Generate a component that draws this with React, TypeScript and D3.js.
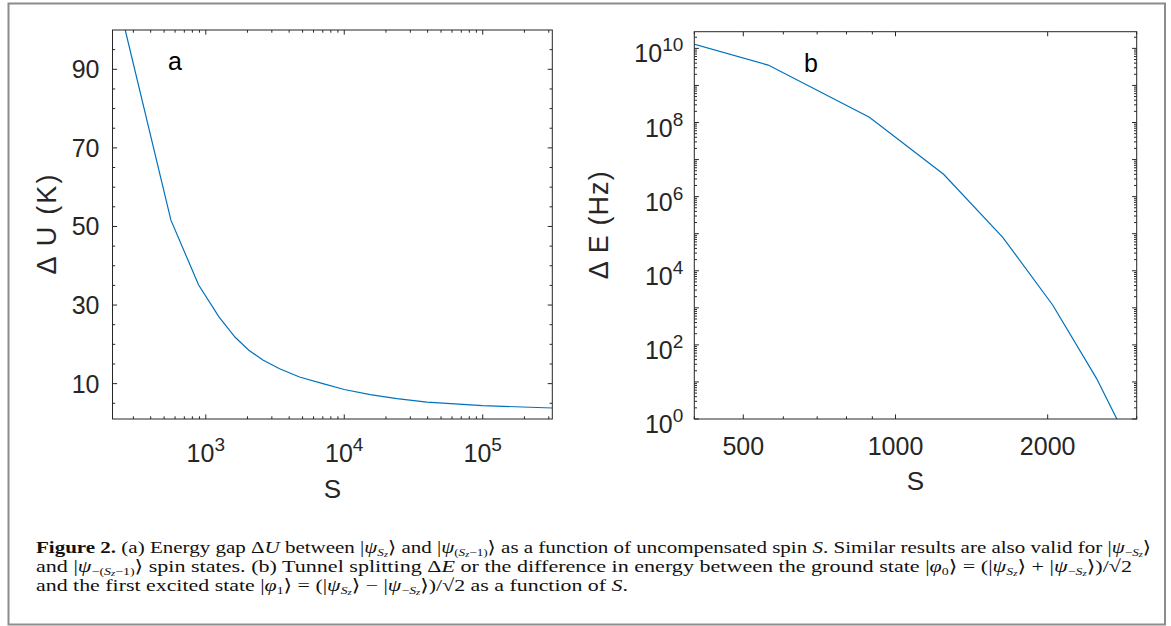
import React from 'react';
import * as d3 from 'd3';

// ---- data ----
const S_A = [262, 560, 888, 1245, 1630, 2046, 2583, 3412, 4755, 7013, 10000, 15400, 24000, 39500, 100000, 318000];
const DU_A = [100, 51.6, 35.1, 27.0, 21.8, 18.5, 16.0, 13.8, 11.7, 10.0, 8.5, 7.2, 6.2, 5.3, 4.4, 3.8];

const S_B = [262, 560, 888, 1245, 1630, 2046, 2498, 2990];
const DE_B = [6.7e10, 3.55e9, 1.38e8, 4.0e6, 8.0e4, 1.19e3, 12.5, 0.093];

const A_X_EXP = [3, 4, 5];
const A_Y_LABELS = [10, 30, 50, 70, 90];
const A_Y_MINOR = [5, 15, 20, 25, 35, 40, 45, 55, 60, 65, 75, 80, 85, 95];
const B_X_LABELS = [500, 1000, 2000];
const B_Y_EXP = [0, 2, 4, 6, 8, 10];

const FONT = '"Liberation Sans", Arial, Helvetica, sans-serif';
const SERIF = '"Liberation Serif", "DejaVu Serif", "Times New Roman", serif';
const INK = '#262626';
const LINE = '#0072BD';

const A = { l: 112.5, r: 552.3, t: 30, b: 419 };
const B = { l: 694.3, r: 1136.7, t: 31.7, b: 419 };

const MAJ = 4.6;
const MIN = 2.7;

type Seg = { t: string; s?: 'b' | 'i' | 'n'; lv?: number };

const L1: Seg[] = [
  { t: 'Figure 2.', s: 'b' },
  { t: ' (a) Energy gap Δ' },
  { t: 'U', s: 'i' },
  { t: ' between |' },
  { t: 'ψ', s: 'i' }, { t: 'S', s: 'i', lv: 1 }, { t: 'z', s: 'i', lv: 2 },
  { t: '⟩ and |' },
  { t: 'ψ', s: 'i' }, { t: '(', lv: 1 }, { t: 'S', s: 'i', lv: 1 }, { t: 'z', s: 'i', lv: 2 }, { t: '−1)', lv: 1 },
  { t: '⟩ as a function of uncompensated spin ' },
  { t: 'S', s: 'i' },
  { t: '. Similar results are also valid for |' },
  { t: 'ψ', s: 'i' }, { t: '−', lv: 1 }, { t: 'S', s: 'i', lv: 1 }, { t: 'z', s: 'i', lv: 2 },
  { t: '⟩' },
];
const L2: Seg[] = [
  { t: 'and |' },
  { t: 'ψ', s: 'i' }, { t: '−(', lv: 1 }, { t: 'S', s: 'i', lv: 1 }, { t: 'z', s: 'i', lv: 2 }, { t: '−1)', lv: 1 },
  { t: '⟩ spin states. (b) Tunnel splitting Δ' },
  { t: 'E', s: 'i' },
  { t: ' or the difference in energy between the ground state |' },
  { t: 'φ', s: 'i' }, { t: '0', lv: 1 },
  { t: '⟩ = (|' },
  { t: 'ψ', s: 'i' }, { t: 'S', s: 'i', lv: 1 }, { t: 'z', s: 'i', lv: 2 },
  { t: '⟩ + |' },
  { t: 'ψ', s: 'i' }, { t: '−', lv: 1 }, { t: 'S', s: 'i', lv: 1 }, { t: 'z', s: 'i', lv: 2 },
  { t: '⟩)/√2' },
];
const L3: Seg[] = [
  { t: 'and the first excited state |' },
  { t: 'φ', s: 'i' }, { t: '1', lv: 1 },
  { t: '⟩ = (|' },
  { t: 'ψ', s: 'i' }, { t: 'S', s: 'i', lv: 1 }, { t: 'z', s: 'i', lv: 2 },
  { t: '⟩ − |' },
  { t: 'ψ', s: 'i' }, { t: '−', lv: 1 }, { t: 'S', s: 'i', lv: 1 }, { t: 'z', s: 'i', lv: 2 },
  { t: '⟩)/√2 as a function of ' },
  { t: 'S', s: 'i' },
  { t: '.' },
];

const LV_OFF = [0, 2.5, 4];
const LV_SIZE = [17.5, 11, 8.5];

function Caption({ segs, x, y, len }: { segs: Seg[]; x: number; y: number; len: number }) {
  let prev = 0;
  return (
    <text x={x} y={y} fontFamily={SERIF} fill="#111" textLength={len} lengthAdjust="spacingAndGlyphs" style={{ whiteSpace: 'pre' }}>
      {segs.map((s, i) => {
        const lv = s.lv || 0;
        const dy = LV_OFF[lv] - LV_OFF[prev];
        prev = lv;
        return (
          <tspan key={i} dy={dy} fontSize={LV_SIZE[lv]} fontWeight={s.s === 'b' ? 'bold' : 'normal'} fontStyle={s.s === 'i' ? 'italic' : 'normal'}>
            {s.t}
          </tspan>
        );
      })}
    </text>
  );
}

export default function App() {
  const xA = d3.scaleLog().domain([212, 318000]).range([A.l, A.r]);
  const yA = d3.scaleLinear().domain([1, 100]).range([A.b, A.t]);
  const xB = d3.scaleLog().domain([400, 3000]).range([B.l, B.r]);
  const yB = d3.scaleLog().domain([1, Math.pow(10, 10.45)]).range([B.b, B.t]);

  const lineA = d3.line<number>().x((d, i) => xA(S_A[i])).y((d) => yA(d));
  const lineB = d3.line<number>().x((d, i) => xB(S_B[i])).y((d) => yB(d));

  const aXticks = xA.ticks();
  const aXmajor = aXticks.filter((v) => Math.abs(Math.log10(v) - Math.round(Math.log10(v))) < 1e-9);
  const aXminor = aXticks.filter((v) => !aXmajor.includes(v));
  const bXticks = xB.ticks();
  const bXminor = bXticks.filter((v) => !B_X_LABELS.includes(v));
  const bYmajor: number[] = [];
  const bYminor: number[] = [];
  const top = yB.domain()[1];
  for (let e = 0; e <= 10; e++) {
    for (let k = 1; k <= 9; k++) {
      const v = k * Math.pow(10, e);
      if (v > top) continue;
      (k === 1 ? bYmajor : bYminor).push(v);
    }
  }

  const vt = (x: number, y0: number, y1: number, len: number, key: string) => (
    <g key={key}>
      <line x1={x} x2={x} y1={y1} y2={y1 - len} stroke={INK} strokeWidth={1} />
      <line x1={x} x2={x} y1={y0} y2={y0 + len} stroke={INK} strokeWidth={1} />
    </g>
  );
  const ht = (y: number, x0: number, x1: number, len: number, key: string) => (
    <g key={key}>
      <line x1={x0} x2={x0 + len} y1={y} y2={y} stroke={INK} strokeWidth={1} />
      <line x1={x1} x2={x1 - len} y1={y} y2={y} stroke={INK} strokeWidth={1} />
    </g>
  );

  return (
    <svg width={1171} height={626} style={{ position: 'absolute', left: 0, top: 0, background: '#fff' }}>
      <rect x={0} y={0} width={1171} height={626} fill="#fff" />
      <rect x={8.5} y={3.5} width={1156.5} height={621} fill="none" stroke="#8c8c8c" strokeWidth={2} />
      <defs>
        <clipPath id="clipA"><rect x={A.l} y={A.t} width={A.r - A.l} height={A.b - A.t} /></clipPath>
        <clipPath id="clipB"><rect x={B.l} y={B.t} width={B.r - B.l} height={B.b - B.t} /></clipPath>
      </defs>

      {/* ---------- Panel a ---------- */}
      <g>
        <path d={lineA(DU_A) || ''} fill="none" stroke={LINE} strokeWidth={1.2} clipPath="url(#clipA)" />
        {aXmajor.map((v) => vt(xA(v), A.t, A.b, MAJ, 'axM' + v))}
        {aXminor.map((v) => vt(xA(v), A.t, A.b, MIN, 'axm' + v))}
        {A_Y_LABELS.map((v) => ht(yA(v), A.l, A.r, MAJ, 'ayM' + v))}
        {A_Y_MINOR.map((v) => ht(yA(v), A.l, A.r, MIN, 'aym' + v))}
        <rect x={A.l} y={A.t} width={A.r - A.l} height={A.b - A.t} fill="none" stroke={INK} strokeWidth={1} />
        {A_Y_LABELS.map((v) => (
          <text key={'ayl' + v} x={A.l - 13} y={yA(v) + 9} textAnchor="end" fontFamily={FONT} fontSize={25} fill={INK}>{v}</text>
        ))}
        {A_X_EXP.map((e) => (
          <text key={'axl' + e} x={xA(Math.pow(10, e))} y={462} textAnchor="middle" fontFamily={FONT} fontSize={25} fill={INK}>
            10<tspan dy={-11} fontSize={19}>{e}</tspan>
          </text>
        ))}
        <text x={(A.l + A.r) / 2} y={498} textAnchor="middle" fontFamily={FONT} fontSize={26} fill={INK}>S</text>
        <text transform={`translate(56,${(A.t + A.b) / 2}) rotate(-90)`} textAnchor="middle" fontFamily={FONT} fontSize={27} fill={INK} textLength={100} lengthAdjust="spacing">Δ U (K)</text>
        <text x={168} y={70} fontFamily={FONT} fontSize={25} fill="#000">a</text>
      </g>

      {/* ---------- Panel b ---------- */}
      <g>
        <path d={lineB(DE_B) || ''} fill="none" stroke={LINE} strokeWidth={1.2} clipPath="url(#clipB)" />
        {B_X_LABELS.map((v) => vt(xB(v), B.t, B.b, MAJ, 'bxM' + v))}
        {bXminor.map((v) => vt(xB(v), B.t, B.b, MIN, 'bxm' + v))}
        {bYmajor.map((v) => ht(yB(v), B.l, B.r, MAJ, 'byM' + v))}
        {bYminor.map((v) => ht(yB(v), B.l, B.r, MIN, 'bym' + v))}
        <rect x={B.l} y={B.t} width={B.r - B.l} height={B.b - B.t} fill="none" stroke={INK} strokeWidth={1} />
        {B_Y_EXP.map((e) => (
          <text key={'byl' + e} x={B.l - 11} y={yB(Math.pow(10, e)) + 14} textAnchor="end" fontFamily={FONT} fontSize={25} fill={INK}>
            10<tspan dy={-11} fontSize={19}>{e}</tspan>
          </text>
        ))}
        {B_X_LABELS.map((v) => (
          <text key={'bxl' + v} x={xB(v)} y={455} textAnchor="middle" fontFamily={FONT} fontSize={25} fill={INK}>{v}</text>
        ))}
        <text x={(B.l + B.r) / 2} y={490} textAnchor="middle" fontFamily={FONT} fontSize={26} fill={INK}>S</text>
        <text transform={`translate(608,${(B.t + B.b) / 2}) rotate(-90)`} textAnchor="middle" fontFamily={FONT} fontSize={27} fill={INK} textLength={108} lengthAdjust="spacing">Δ E (Hz)</text>
        <text x={804} y={72} fontFamily={FONT} fontSize={25} fill="#000">b</text>
      </g>

      {/* ---------- Caption ---------- */}
      <Caption segs={L1} x={36} y={553} len={1115} />
      <Caption segs={L2} x={36} y={572} len={1096} />
      <Caption segs={L3} x={36} y={591} len={592} />
    </svg>
  );
}
